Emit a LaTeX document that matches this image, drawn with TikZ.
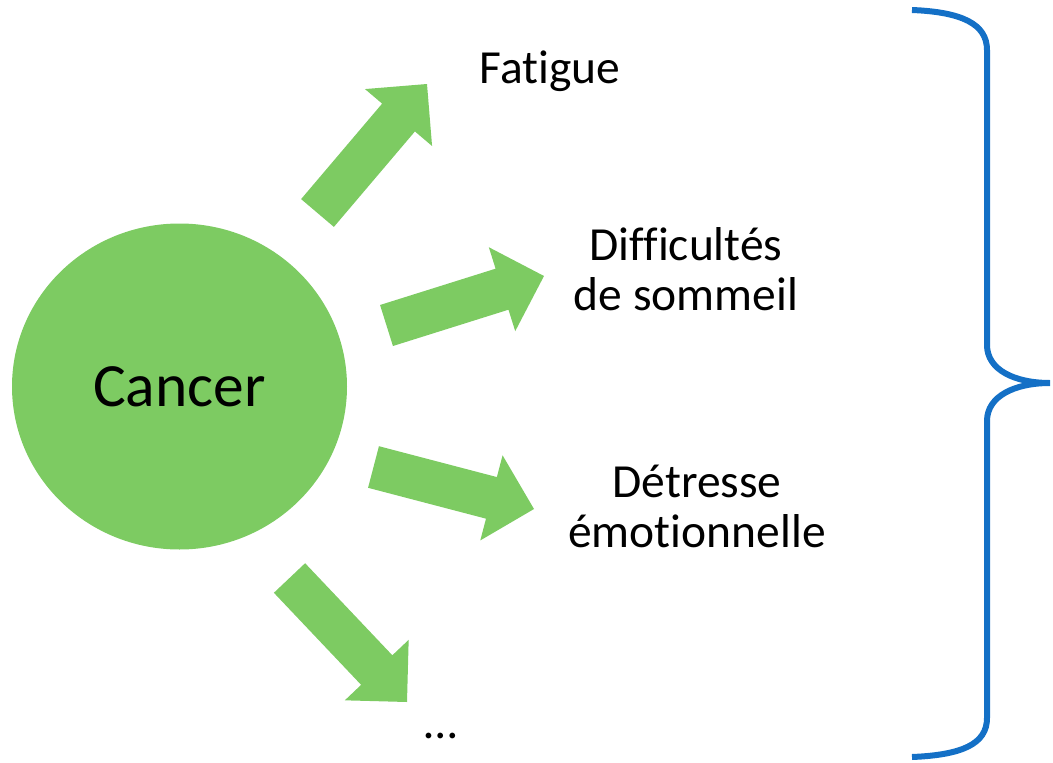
\documentclass[tikz,border=0pt]{standalone}
\usepackage{fontspec}
\setmainfont{Carlito}[Ligatures={NoCommon}]
\usetikzlibrary{calc,shapes.geometric}

\definecolor{leafgreen}{RGB}{125,203,98}
\definecolor{braceblue}{RGB}{20,112,198}

% half shaft width, half head width, head length of the block arrows
\newcommand\shaftw{21.5pt}
\newcommand\headw{44pt}
\newcommand\headl{44pt}

% block arrow from tail midpoint #1 to tip #2
\newcommand\fatarrow[2]{%
  \coordinate (#1-neck) at ($(#2)!\headl!(#1)$);
  \fill[leafgreen]
    ($(#1)!\shaftw!90:(#2)$) --
    ($(#1-neck)!\shaftw!90:(#2)$) --
    ($(#1-neck)!\headw!90:(#2)$) --
    (#2) --
    ($(#1-neck)!\headw!-90:(#2)$) --
    ($(#1-neck)!\shaftw!-90:(#2)$) --
    ($(#1)!\shaftw!-90:(#2)$) -- cycle;%
}

\tikzset{
  effect/.style={font=\fontsize{47.5}{49.5}\selectfont, inner sep=0pt, anchor=base},
  core/.style={ellipse, fill=leafgreen, minimum width=335pt, minimum height=326pt,
    inner sep=0pt, font=\fontsize{61.5}{64}\selectfont},
  bracket/.style={draw=braceblue, line width=6pt}
}

\begin{document}
\begin{tikzpicture}[x=1pt,y=-1pt]
\useasboundingbox (0,0) rectangle (1053,763);

% central disc
\node[core] (cancer) at (179.5,386.5) {Cancer};

% consequences (base anchor sits on the last line)
\node[effect] (fatigue) at (550,83) {Fatigue};
\node[effect, align=center] (sleep) at (686,310) {Difficultés\\de sommeil};
\node[effect, align=center] (distress) at (697,547) {Détresse\\émotionnelle};
\node[effect] (more) at (441,738) {…};

% arrow ends
\coordinate (a1) at (317.5,213);  \coordinate (b1) at (427,84);
\coordinate (a2) at (386.5,325.5); \coordinate (b2) at (544,276);
\coordinate (a3) at (373.5,467);  \coordinate (b3) at (534,509);
\coordinate (a4) at (289.5,578);  \coordinate (b4) at (407,702);

\fatarrow{a1}{b1}
\fatarrow{a2}{b2}
\fatarrow{a3}{b3}
\fatarrow{a4}{b4}

% right curly brace
\coordinate (brtop) at (912,10);
\coordinate (brtip) at (1050,383);
\coordinate (brbot) at (912,757);
\draw[bracket] (brtop) .. controls (962,12) and (987,24) .. (987,50)
  -- (987,345) .. controls (987,370) and (1015,383) .. (brtip)
  .. controls (1015,383) and (987,396) .. (987,421)
  -- (987,718) .. controls (987,744) and (962,755) .. (brbot);
\end{tikzpicture}
\end{document}
